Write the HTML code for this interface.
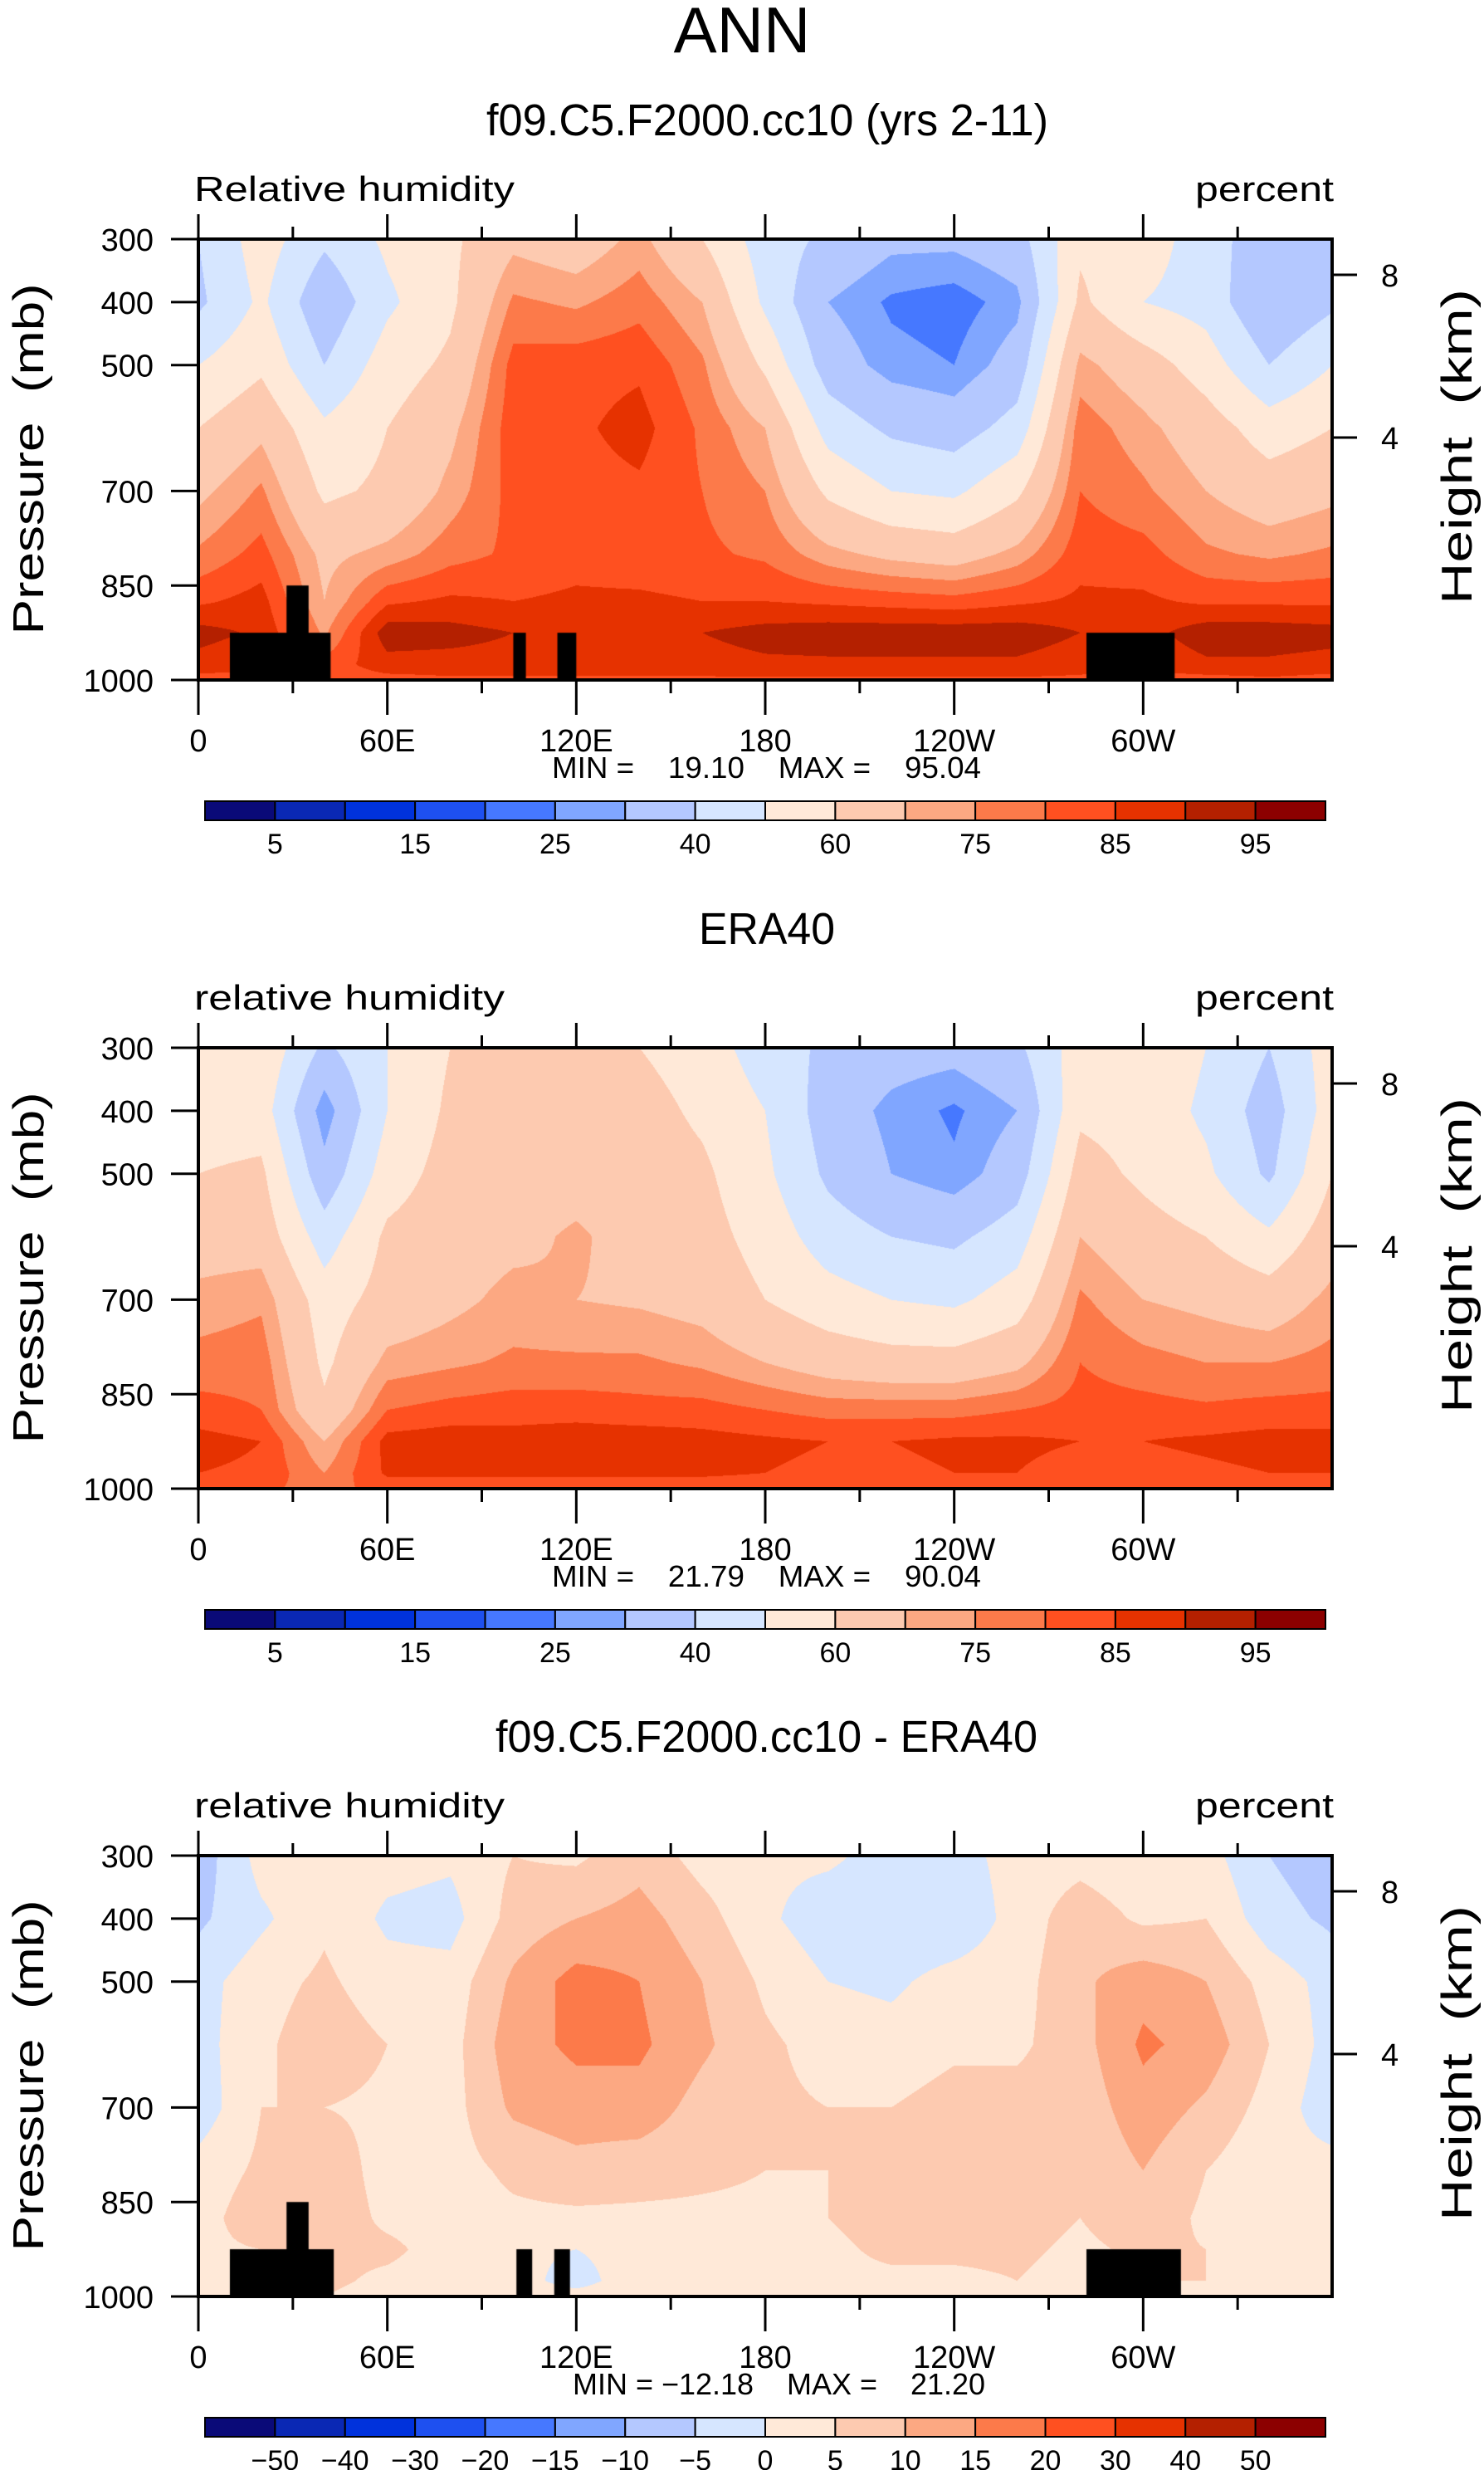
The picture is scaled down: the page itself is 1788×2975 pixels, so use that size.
<!DOCTYPE html>
<html><head><meta charset="utf-8"><style>
html,body{margin:0;padding:0;background:#fff;}
#wrap{position:relative;width:1788px;height:2975px;overflow:hidden;background:#fff;}
canvas{position:absolute;}
svg{position:absolute;left:0;top:0;}
text{font-family:"Liberation Sans",sans-serif;fill:#000;white-space:pre;}
</style></head><body>
<div id="wrap">
<canvas id="c1" width="1366" height="531" style="left:239px;top:288px"></canvas>
<canvas id="c2" width="1366" height="531" style="left:239px;top:1262px"></canvas>
<canvas id="c3" width="1366" height="531" style="left:239px;top:2235px"></canvas>
<svg id="s" width="1788" height="2975"></svg>
</div>
<script>
const lons=[0,20,40,60,80,100,120,140,160,180,200,220,240,260,280,300,320,340,360];
const plevs=[300,400,500,600,700,800,875,925,975,1000];
const rhModel=[
[40,38,50,60,68,76,84,92,88,83],[55,52,58,68,76,82,87,89,86,83],[42,32,40,52,58,68,70,74,82,82],
[52,48,55,60,62,72,84,93,88,83],[58,58,62,68,72,78,86,92,88,84],[68,76,82,83,82,81,85,90,88,84],
[65,74,83,84,83,83,86,90,88,84],[72,78,84,87,84,82,86,90,88,84],[60,70,76,79,80,81,85,90,88,84],
[45,48,58,70,75,79,85,92,89,84],[38,30,35,46,58,72,84,93,89,84],[32,24,27,38,50,68,83,93,89,84],
[32,22,25,35,48,66,82,93,89,84],[36,28,34,44,58,72,84,93,89,84],[58,62,72,78,80,83,86,90,87,84],
[55,50,65,72,76,82,86,88,86,83],[45,46,55,65,70,76,84,93,89,83],[33,30,40,55,65,74,84,93,89,84],
[40,38,50,60,68,76,84,92,88,83]];
const rhEra=[
[55,55,60,66,72,77,82,87,85,82],[58,55,62,66,74,78,80,85,84,81],[38,26,33,45,55,58,62,70,75,78],
[50,50,55,62,64,72,80,87,86,82],[60,62,64,66,68,74,82,88,86,82],[62,64,66,68,72,76,83,87,86,82],
[62,65,67,71,70,76,83,88,86,82],[60,64,66,67,69,76,82,88,86,82],[55,58,62,64,67,74,82,87,86,82],
[45,50,52,56,60,70,80,86,85,82],[38,35,38,45,54,66,78,85,84,81],[34,28,30,40,50,64,78,85,84,81],
[33,24,26,38,48,64,78,86,85,81],[38,30,35,45,55,68,80,86,85,82],[55,58,64,70,76,80,82,85,83,81],
[58,56,58,64,70,77,82,85,83,81],[50,48,52,60,68,75,81,86,84,81],[40,35,38,52,65,75,82,87,85,82],
[55,55,60,66,72,77,82,87,85,82]];
const rhDiff=[
[-8,-6,-2,-2,-3,2,3,4,4,2],[2,-1,3,4,5,6,8,5,5,3],[3,4,6,8,5,8,8,6,6,5],
[2,-1,2,5,4,3,4,6,4,3],[1,-2,2,3,3,3,3,3,3,3],[5,7,11,13,11,6,4,1,2,3],
[4,10,17,16,13,8,4,0,-2,2],[8,12,15,16,13,7,4,2,3,3],[3,7,10,11,8,6,4,3,3,3],
[1,1,4,6,6,5,4,3,3,3],[1,-3,0,3,5,5,5,4,4,3],[-2,-4,-1,2,5,6,7,6,4,3],
[-2,-4,2,4,7,5,6,6,4,3],[2,2,3,4,7,8,7,6,5,3],[3,8,9,8,7,6,5,4,3,2],
[1,4,13,16,13,10,8,6,5,3],[2,5,10,13,9,5,4,5,5,3],[-5,-3,3,5,3,1,2,4,4,3],
[-8,-6,-2,-2,-3,2,3,4,4,2]];
const rhLevels=[5,10,15,20,25,30,40,50,60,70,75,80,85,90,95];
const rhLabels=["5","15","25","40","60","75","85","95"];
const diffLevels=[-50,-40,-30,-20,-15,-10,-5,0,5,10,15,20,30,40,50];
const diffLabels=["−50","−40","−30","−20","−15","−10","−5","0","5","10","15","20","30","40","50"];
const palette=["#0a0a78","#0a28b4","#0032dc","#1e50f0","#4678ff","#80a6ff","#b4c8ff","#d6e6ff","#ffe9d8","#fdcab0","#fca882","#fc7a4a","#ff5020","#e63200","#b42000","#8c0000"];
const masks1=[[10,42,925],[28,35,850],[100,104,925],[114,120,925],[282,310,925]];
const masks3=[[10,43,925],[28,35,850],[101,106,925],[113,118,925],[282,312,925]];
const xTickLabels=["0","60E","120E","180","120W","60W"];
const yTickVals=[300,400,500,700,850,1000];
const kmTicks=[[8,43],[4,239]];

const W=1366,H=531,PL=239;
function xs(l){return l/360*W;}
function ys(p){return (p-300)/700*H;}
function rgb(h){return [parseInt(h.substr(1,2),16),parseInt(h.substr(3,2),16),parseInt(h.substr(5,2),16)];}
const pal=palette.map(rgb);
function drawField(id,data,levels,masks){
  const c=document.getElementById(id),ctx=c.getContext('2d');
  const img=ctx.createImageData(W,H);
  for(let y=0;y<H;y++){
    const p=300+700*(y+0.5)/H;
    let j=0;while(j<plevs.length-2&&p>plevs[j+1])j++;
    const ty=(p-plevs[j])/(plevs[j+1]-plevs[j]);
    for(let x=0;x<W;x++){
      const l=360*(x+0.5)/W;
      let i=Math.min(Math.floor(l/20),lons.length-2);
      const tx=(l-lons[i])/20;
      const v=(data[i][j]*(1-tx)+data[i+1][j]*tx)*(1-ty)+(data[i][j+1]*(1-tx)+data[i+1][j+1]*tx)*ty;
      let b=0;while(b<levels.length&&v>=levels[b])b++;
      const col=pal[b],k=(y*W+x)*4;
      img.data[k]=col[0];img.data[k+1]=col[1];img.data[k+2]=col[2];img.data[k+3]=255;
    }
  }
  ctx.putImageData(img,0,0);
  ctx.fillStyle='#000';
  (masks||[]).forEach(m=>{ctx.fillRect(xs(m[0]),ys(m[2]),xs(m[1])-xs(m[0]),H-ys(m[2]));});
}
drawField('c1',rhModel,rhLevels,masks1);
drawField('c2',rhEra,rhLevels,null);
drawField('c3',rhDiff,diffLevels,masks3);

const svg=document.getElementById('s'),NS='http://www.w3.org/2000/svg';
function el(tag,attrs,txt){const e=document.createElementNS(NS,tag);for(const k in attrs)e.setAttribute(k,attrs[k]);if(txt!==undefined)e.textContent=txt;svg.appendChild(e);return e;}
let t=el('text',{x:894,y:63,'font-size':78,'text-anchor':'middle'},'ANN');



const panels=[
 {top:288,title:"f09.C5.F2000.cc10 (yrs 2-11)",tx:586,tw:677,sub:"Relative humidity",minmax:"MIN =    19.10    MAX =    95.04",levels:rhLabels,diff:false,name:'model'},
 {top:1262,title:"ERA40",tx:842,tw:164,sub:"relative humidity",minmax:"MIN =    21.79    MAX =    90.04",levels:rhLabels,diff:false,name:'era40'},
 {top:2235,title:"f09.C5.F2000.cc10 - ERA40",tx:597,tw:653,sub:"relative humidity",minmax:"MIN = −12.18    MAX =    21.20",levels:diffLabels,diff:true,name:'diff'}];
panels.forEach(P=>{
  const T=P.top,L=PL,R=PL+W,B=T+H;
  let e=el('text',{x:P.tx,y:T-125,'font-size':54,textLength:P.tw,lengthAdjust:'spacingAndGlyphs'},P.title);
  
  
  e=el('text',{x:234,y:T-46,'font-size':42,textLength:P.name=='model'?386:374,lengthAdjust:'spacingAndGlyphs'},P.sub);
  
  
  e=el('text',{x:1607,y:T-46,'font-size':42,'text-anchor':'end',textLength:167,lengthAdjust:'spacingAndGlyphs'},'percent');
  
  
  e=el('rect',{x:L,y:T,width:W,height:H,fill:'none',stroke:'#000','stroke-width':4});
  
  
  for(let lon=0;lon<=330;lon+=30){
    const x=L+xs(lon),maj=lon%60==0;
    e=el('line',{x1:x,y1:T,x2:x,y2:T-(maj?30:15),stroke:'#000','stroke-width':3});
    
    
    e=el('line',{x1:x,y1:B,x2:x,y2:B+(maj?42:16),stroke:'#000','stroke-width':3});
    
    
    if(maj){e=el('text',{x:x,y:B+86,'font-size':38,'text-anchor':'middle'},xTickLabels[lon/60]);
      
      }
  }
  yTickVals.forEach(p=>{
    const y=T+ys(p);
    e=el('line',{x1:L-33,y1:y,x2:L,y2:y,stroke:'#000','stroke-width':3});
    
    
    e=el('text',{x:185,y:y+14,'font-size':38,'text-anchor':'end'},String(p));
    
    
  });
  kmTicks.forEach(k=>{
    const y=T+k[1];
    e=el('line',{x1:R,y1:y,x2:R+30,y2:y,stroke:'#000','stroke-width':3});
    
    
    e=el('text',{x:1664,y:y+14,'font-size':38},String(k[0]));
    
    
  });
  e=el('text',{x:0,y:0,'font-size':52,'text-anchor':'middle',textLength:423,lengthAdjust:'spacingAndGlyphs',transform:`translate(52,${T+265}) rotate(-90)`},'Pressure  (mb)');
  
  
  e=el('text',{x:0,y:0,'font-size':52,'text-anchor':'middle',textLength:380,lengthAdjust:'spacingAndGlyphs',transform:`translate(1773,${T+250}) rotate(-90)`},'Height  (km)');
  
  
  e=el('text',{x:P.diff?690:665,y:B+118,'font-size':36,textLength:P.diff?497:517,lengthAdjust:'spacingAndGlyphs'},P.minmax);
  
  
  const cbL=247,cbR=1597,cbT=T+677,cbH=23,bw=(cbR-cbL)/16;
  for(let b=0;b<16;b++){
    e=el('rect',{x:cbL+b*bw,y:cbT,width:bw,height:cbH,fill:palette[b],stroke:'#000','stroke-width':2});
    
    
  }
  P.levels.forEach((lab,i)=>{
    const bi=P.diff?i+1:2*i+1;
    e=el('text',{x:cbL+bi*bw,y:cbT+63,'font-size':34,'text-anchor':'middle'},lab);
    
    
  });
});
</script>
</body></html>
